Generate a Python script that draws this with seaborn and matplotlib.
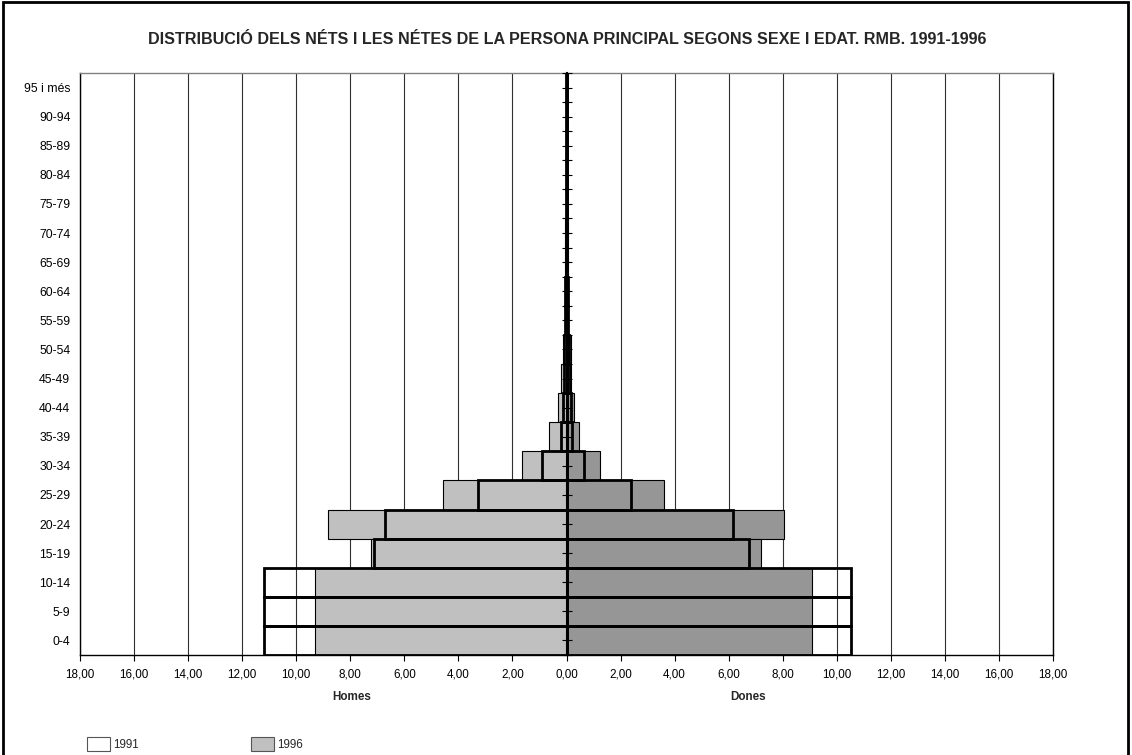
import numpy as np
import pandas as pd
import matplotlib
matplotlib.use("Agg")
import matplotlib.pyplot as plt
import seaborn as sns
from matplotlib.patches import Patch, Rectangle
from matplotlib.ticker import FuncFormatter

ages = ['0-4', '5-9', '10-14', '15-19', '20-24', '25-29', '30-34', '35-39',
        '40-44', '45-49', '50-54', '55-59', '60-64', '65-69', '70-74',
        '75-79', '80-84', '85-89', '90-94', '95 i més']
men_1996 = [9.31, 9.31, 9.31, 7.22, 8.82, 4.58, 1.65, 0.64, 0.32, 0.22,
            0.14, 0.07, 0.05, 0.04, 0.04, 0.03, 0.03, 0.02, 0.02, 0.01]
women_1996 = [9.08, 9.08, 9.08, 7.18, 8.03, 3.60, 1.24, 0.47, 0.27, 0.17,
              0.15, 0.07, 0.05, 0.04, 0.04, 0.03, 0.03, 0.02, 0.02, 0.01]
men_1991 = [11.20, 11.20, 11.20, 7.12, 6.70, 3.26, 0.89, 0.22, 0.14, 0.10,
            0.08, 0.05, 0.04, 0.03, 0.03, 0.03, 0.02, 0.02, 0.01, 0.01]
women_1991 = [10.53, 10.53, 10.53, 6.77, 6.17, 2.39, 0.65, 0.21, 0.15, 0.12,
              0.10, 0.06, 0.04, 0.03, 0.03, 0.03, 0.02, 0.02, 0.01, 0.01]
xticks = list(range(-18, 19, 2))

title = "DISTRIBUCIÓ DELS NÉTS I LES NÉTES DE LA PERSONA PRINCIPAL SEGONS SEXE I EDAT. RMB. 1991-1996"

sns.set_theme(style="white")
plt.rcParams['font.family'] = ['Liberation Sans', 'DejaVu Sans']
FS = 8.4

fig = plt.figure(figsize=(11.32, 7.55), dpi=100)
ax = fig.add_axes([80/1132, 1-655/755, (1053-80)/1132, (655-73)/755])

order = ages[::-1]
df = pd.DataFrame({'age': ages,
                   'm96': -np.array(men_1996), 'w96': np.array(women_1996),
                   'm91': -np.array(men_1991), 'w91': np.array(women_1991)})

ax.set_axisbelow(True)
for xv in xticks:
    ax.axvline(xv, color='#303030', lw=0.8, zorder=0)

sns.barplot(data=df, x='m96', y='age', order=order, orient='y', color='#c0c0c0',
            saturation=1, edgecolor='black', linewidth=0.8, width=1.0,
            errorbar=None, ax=ax, zorder=2)
sns.barplot(data=df, x='w96', y='age', order=order, orient='y', color='#969696',
            saturation=1, edgecolor='black', linewidth=0.8, width=1.0,
            errorbar=None, ax=ax, zorder=2)
sns.barplot(data=df, x='m91', y='age', order=order, orient='y', color='black',
            fill=False, linewidth=2.0, width=1.0, errorbar=None, ax=ax, zorder=3)
sns.barplot(data=df, x='w91', y='age', order=order, orient='y', color='black',
            fill=False, linewidth=2.0, width=1.0, errorbar=None, ax=ax, zorder=3)

ax.set_xlim(-18, 18)
ax.set_ylim(len(ages) - 0.5, -0.5)
ax.set_xticks(xticks)
ax.xaxis.set_major_formatter(FuncFormatter(lambda v, p: f"{abs(v):.2f}".replace('.', ',')))
ax.tick_params(axis='x', bottom=True, direction='out', length=4, width=0.8,
               labelsize=FS, colors='black', pad=6)
ax.tick_params(axis='y', left=False, length=0, labelsize=8.8, pad=7, colors='black')
ax.set_xlabel('')
ax.set_ylabel('')
for side in ['left', 'bottom', 'right']:
    ax.spines[side].set_color('black')
    ax.spines[side].set_linewidth(1.0)
ax.spines['top'].set_color('#808080')
ax.spines['top'].set_linewidth(1.0)
for s in ax.spines.values():
    s.set_visible(True)

# centre axis with tick marks
ax2 = ax.twinx()
ax2.set_ylim(ax.get_ylim())
ax2.spines['left'].set_position(('data', 0))
ax2.spines['left'].set_color('black')
ax2.spines['left'].set_linewidth(1.5)
for side in ['right', 'top', 'bottom']:
    ax2.spines[side].set_visible(False)
ax2.yaxis.set_ticks_position('left')
ax2.set_yticks(np.arange(-0.5, len(ages), 0.5))
ax2.tick_params(axis='y', direction='inout', length=7, width=0.8, labelleft=False,
                labelright=False, colors='black')
ax2.set_zorder(ax.get_zorder() + 1)
ax2.patch.set_visible(False)

fig.text(567/1132, 1-40/755, title, ha='center', va='center', fontsize=11.6,
         fontweight='bold')
fig.text(352/1132, 1-697/755, 'Homes', ha='center', va='center', fontsize=FS,
         fontweight='bold')
fig.text(748/1132, 1-697/755, 'Dones', ha='center', va='center', fontsize=FS,
         fontweight='bold')

handles = [Patch(facecolor='white', edgecolor='#555555', linewidth=0.8, label='1991'),
           Patch(facecolor='#c0c0c0', edgecolor='#555555', linewidth=0.8, label='1996')]
fig.legend(handles=handles, loc='upper left', bbox_to_anchor=(87/1132, 1-737/755),
           ncol=2, frameon=False, fontsize=FS, borderpad=0, borderaxespad=0,
           handlelength=2.0, handleheight=1.5, handletextpad=0.25, columnspacing=9.6)

fig.patches.append(Rectangle((3/1132, -0.05), 1125/1132, 1.05 - 2/755, fill=False,
                             edgecolor='black', linewidth=2.0,
                             transform=fig.transFigure, figure=fig))

fig.savefig('out.png', dpi=100)
